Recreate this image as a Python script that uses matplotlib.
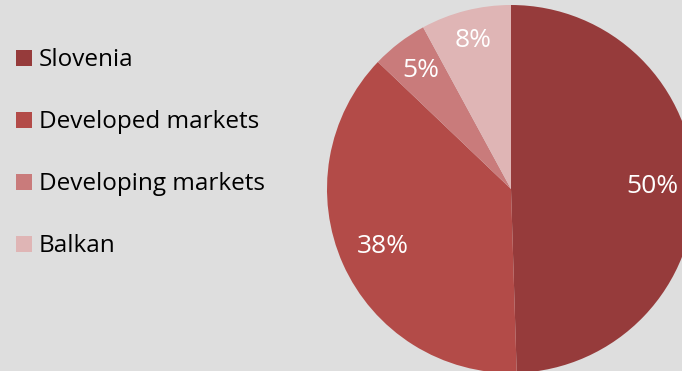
import matplotlib
matplotlib.use("Agg")
import matplotlib.pyplot as plt
import numpy as np
from matplotlib.patches import Rectangle

categories = ["Slovenia", "Developed markets", "Developing markets", "Balkan"]
shares = [50, 38, 5, 8]
colors = ["#963b3b", "#b34b48", "#c97b7b", "#dfb5b5"]
bg = "#dedede"

plt.rcParams["font.family"] = ["Open Sans", "DejaVu Sans"]

W, H = 682, 371
fig = plt.figure(figsize=(W / 100, H / 100), dpi=100, facecolor=bg)

# pie axes: centre and radius in pixels
cx, cy, r = 511, 189, 184
ax = fig.add_axes([(cx - r) / W, (H - cy - r) / H, 2 * r / W, 2 * r / H])
ax.set_facecolor(bg)
wedges, _ = ax.pie(shares, colors=colors, startangle=90, counterclock=False,
                   radius=1, wedgeprops=dict(linewidth=0))
ax.set_xlim(-1, 1)
ax.set_ylim(-1, 1)
ax.set_aspect("equal")
ax.axis("off")

dist = [0.77, 0.76, 0.81, 0.83]
for w, v, d in zip(wedges, shares, dist):
    mid = np.deg2rad((w.theta1 + w.theta2) / 2)
    ax.text(d * np.cos(mid), d * np.sin(mid), f"{v}%", color="white",
            fontsize=19, ha="center", va="center")

# legend: square markers with labels, one row every 62 px
sq = 16
x0, base0, step = 16, 66, 62
for i, (lab, c) in enumerate(zip(categories, colors)):
    base = base0 + i * step
    fig.add_artist(Rectangle((x0 / W, (H - base) / H), sq / W, sq / H,
                             transform=fig.transFigure, facecolor=c,
                             edgecolor="none"))
    fig.text((x0 + sq + 7) / W, (H - base) / H, lab, fontsize=17.5,
             color="black", ha="left", va="baseline")

fig.savefig("out.png", dpi=100, facecolor=bg)
